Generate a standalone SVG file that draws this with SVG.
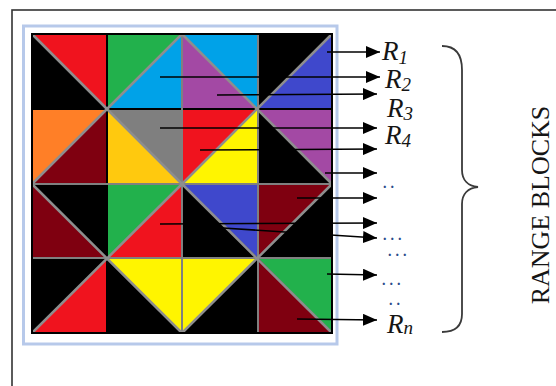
<svg xmlns="http://www.w3.org/2000/svg" width="556" height="386" viewBox="0 0 556 386">
<defs>
<style>
.lbl{font-family:"Liberation Serif","Times New Roman",serif;font-style:italic;font-size:27px;fill:#151515}
.sub{font-size:19px}
.dots{font-family:"Liberation Serif","Times New Roman",serif;font-size:14px;font-weight:bold;fill:#2a4a8a;letter-spacing:4px}
.title{font-family:"Liberation Serif","Times New Roman",serif;font-size:26px;fill:#151515}
.diag{stroke:#8e8e8e;stroke-width:2.5;fill:none}
.gl{stroke:#808080;stroke-width:2;fill:none}
.gk{stroke:#000;stroke-width:2;fill:none}
.arr{stroke:#000;stroke-width:1.6;fill:none;marker-end:url(#ah)}
</style>
<marker id="ah" markerUnits="userSpaceOnUse" markerWidth="15" markerHeight="12" refX="14" refY="6" orient="auto">
<path d="M0,0 L14,6 L0,12 Z" fill="#000"/>
</marker>
</defs>
<rect width="556" height="386" fill="#fff"/>
<rect x="12" y="10" width="560" height="400" fill="none" stroke="#333" stroke-width="1.6"/>
<rect x="23.5" y="26" width="313.5" height="318" fill="#fff" stroke="#b7c9ea" stroke-width="3"/>

<g id="range-image">
<rect x="32" y="34" width="300" height="299" fill="#000"/>
<!-- row 0 -->
<polygon points="32,34 107,34 107,109" fill="#f0131e"/>
<polygon points="107,34 182,34 107,109" fill="#22b14c"/>
<polygon points="182,34 182,109 107,109" fill="#00a2e8"/>
<polygon points="182,34 258,34 258,109" fill="#00a2e8"/>
<polygon points="182,34 182,109 258,109" fill="#a349a4"/>
<polygon points="332,34 332,109 258,109" fill="#3f48cc"/>
<!-- row 1 -->
<polygon points="32,109 107,109 32,184" fill="#ff7f27"/>
<polygon points="107,109 107,184 32,184" fill="#7f0010"/>
<polygon points="107,109 182,109 182,184" fill="#7f7f7f"/>
<polygon points="107,109 107,184 182,184" fill="#ffc90e"/>
<polygon points="182,109 258,109 182,184" fill="#f0131e"/>
<polygon points="258,109 258,184 182,184" fill="#fff500"/>
<polygon points="258,109 332,109 332,184" fill="#a349a4"/>
<!-- row 2 -->
<polygon points="32,184 32,258 107,258" fill="#7f0010"/>
<polygon points="107,184 182,184 107,258" fill="#22b14c"/>
<polygon points="182,184 182,258 107,258" fill="#f0131e"/>
<polygon points="182,184 258,184 258,258" fill="#3f48cc"/>
<polygon points="258,184 332,184 258,258" fill="#7f0010"/>
<!-- row 3 -->
<polygon points="107,258 107,333 32,333" fill="#f0131e"/>
<polygon points="107,258 182,258 182,333" fill="#fff500"/>
<polygon points="182,258 258,258 182,333" fill="#fff500"/>
<polygon points="258,258 332,258 332,333" fill="#22b14c"/>
<polygon points="258,258 258,333 332,333" fill="#7f0010"/>
<!-- grid lines -->
<line class="gk" x1="107" y1="34" x2="107" y2="333"/>
<line class="gk" x1="32" y1="109" x2="332" y2="109"/>
<line class="gl" x1="182" y1="34" x2="182" y2="333"/>
<line class="gl" x1="258" y1="34" x2="258" y2="333"/>
<line class="gl" x1="32" y1="184" x2="332" y2="184"/>
<line class="gl" x1="32" y1="258" x2="332" y2="258"/>
<!-- diagonals -->
<path class="diag" d="M32,34 L182,184 M32,184 L182,34 M182,34 L332,184 M182,184 L332,34 M32,184 L182,333 M32,333 L182,184 M182,184 L332,333 M182,333 L332,184"/>
<rect x="32" y="34" width="300" height="299" fill="none" stroke="#000" stroke-width="2"/>
</g>

<g id="connectors">
<line class="arr" x1="327" y1="52" x2="380" y2="52"/>
<line class="arr" x1="160" y1="77" x2="380" y2="77"/>
<line class="arr" x1="217" y1="95" x2="377" y2="94"/>
<line class="arr" x1="160" y1="128" x2="377" y2="128"/>
<line class="arr" x1="200" y1="150" x2="377" y2="149"/>
<line class="arr" x1="325" y1="173" x2="377" y2="173"/>
<line class="arr" x1="297" y1="198" x2="377" y2="198"/>
<line class="arr" x1="160" y1="224" x2="377" y2="223"/>
<line class="arr" x1="223" y1="228" x2="377" y2="238"/>
<line class="arr" x1="327" y1="274" x2="377" y2="275"/>
<line class="arr" x1="297" y1="319" x2="377" y2="320"/>
</g>

<g id="labels">
<g id="r1"><text class="lbl" x="382" y="60">R<tspan class="sub" dy="4">1</tspan></text></g>
<g id="r2"><text class="lbl" x="385" y="88">R<tspan class="sub" dy="3">2</tspan></text></g>
<g id="r3"><text class="lbl" x="387" y="117">R<tspan class="sub" dy="3">3</tspan></text></g>
<g id="r4"><text class="lbl" x="385" y="144">R<tspan class="sub" dy="3">4</tspan></text></g>
<g id="d1"><text class="dots" x="383" y="188">..</text></g>
<g id="d2"><text class="dots" x="383" y="240">...</text></g>
<g id="d3"><text class="dots" x="388" y="256">...</text></g>
<g id="d4"><text class="dots" x="382" y="285">...</text></g>
<g id="d5"><text class="dots" x="389" y="305">..</text></g>
<g id="rn"><text class="lbl" x="387" y="333">R<tspan class="sub" dy="1">n</tspan></text></g>
</g>

<g id="brace">
<path d="M442,46 C456,46 462,54 462,70 L462,170 C462,180 468,186 478,187 C468,188 462,194 462,204 L462,314 C462,326 456,332 442,332" fill="none" stroke="#3a3a3a" stroke-width="1.8"/>
</g>

<g id="range-blocks">
<text class="title" transform="translate(549,205) rotate(-90)" text-anchor="middle">RANGE BLOCKS</text>
</g>
</svg>
